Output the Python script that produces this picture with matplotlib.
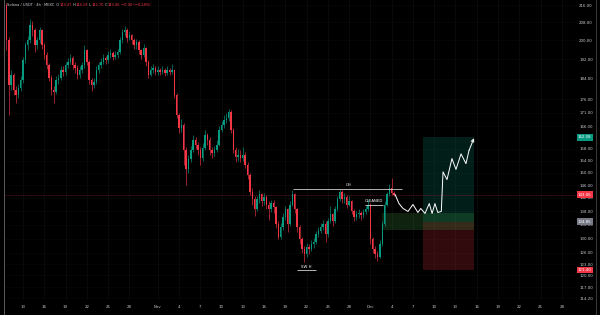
import numpy as np
import matplotlib
matplotlib.use("Agg")
import matplotlib.pyplot as plt
from matplotlib.patches import Rectangle
from matplotlib.lines import Line2D

# ---------------- data ----------------
# time axis: days since Oct 13 (8h candles)
start_day = -7 / 3
candle_step = 1 / 3
first_open = 216.0
closes = [200.2, 181.6, 185.6, 179.6, 177.7, 180.4, 183.6, 191.7, 198.1, 200.2,
          206.8, 204.6, 198.1, 200.2, 204.6, 198.1, 193.8, 189.6, 184.4, 179.6,
          178.8, 183.6, 184.4, 187.6, 186.8, 189.6, 190.9, 192.5, 189.6, 188.4,
          185.6, 187.6, 189.6, 195.9, 190.9, 183.6, 181.6, 182.8, 187.6, 189.6,
          190.9, 192.5, 191.7, 193.8, 194.6, 193.0, 193.8, 195.0, 200.2, 203.7,
          204.6, 201.1, 202.4, 200.2, 198.1, 199.3, 195.9, 193.8, 196.8, 190.9,
          185.6, 187.6, 188.4, 186.8, 187.6, 186.8, 187.6, 186.4, 187.6, 186.8,
          187.6, 177.7, 170.2, 165.4, 166.5, 157.7, 151.1, 154.4, 157.7, 161.2,
          159.5, 157.7, 155.0, 158.4, 162.9, 161.2, 157.7, 156.7, 157.7, 159.5,
          164.7, 166.5, 168.3, 169.0, 171.3, 164.7, 157.7, 155.4, 156.0, 155.0,
          156.0, 152.7, 149.4, 144.0, 141.6, 138.5, 141.6, 143.1, 141.0, 142.2,
          140.0, 138.5, 140.6, 139.1, 134.1, 130.4, 133.3, 136.2, 138.5, 134.1,
          140.0, 143.1, 138.5, 133.3, 129.8, 127.1, 125.7, 127.6, 127.1, 128.4,
          129.0, 131.2, 132.1, 133.3, 134.1, 131.2, 135.0, 137.0, 135.0, 138.5,
          141.6, 144.0, 141.6, 142.2, 140.0, 141.0, 137.9, 136.2, 137.0, 137.3,
          136.7, 137.6, 138.5, 140.0, 129.8, 127.1, 125.7, 124.9, 128.4, 134.1,
          140.0, 143.1, 145.2, 143.47, 143.06]
highs = [217.0, 201.5, 187.5, 186.5, 181.0, 182.0, 185.0, 193.0, 199.5, 202.0,
         209.5, 208.5, 205.5, 201.5, 206.0, 205.0, 199.0, 195.0, 190.5, 185.5,
         181.0, 185.0, 186.0, 189.0, 189.0, 191.0, 192.5, 194.0, 193.5, 191.0,
         189.5, 189.0, 191.0, 198.0, 196.5, 191.5, 184.5, 184.5, 189.0, 191.0,
         192.5, 194.0, 193.5, 195.5, 196.5, 195.5, 195.5, 196.5, 201.5, 205.0,
         206.5, 205.5, 204.0, 203.0, 201.0, 200.5, 200.0, 196.5, 198.5, 197.0,
         191.5, 189.0, 190.0, 189.0, 189.0, 188.5, 189.0, 188.5, 189.0, 188.5,
         190.0, 188.0, 178.5, 171.0, 168.5, 167.0, 158.5, 156.0, 159.0, 163.0,
         162.0, 160.5, 158.5, 160.0, 164.7, 163.5, 162.0, 158.5, 159.0, 161.0,
         166.0, 168.0, 170.0, 171.0, 172.5, 172.0, 165.5, 158.5, 158.0, 157.5,
         158.5, 157.0, 153.5, 150.0, 145.0, 142.5, 142.5, 144.5, 143.5, 143.5,
         142.8, 141.0, 141.5, 141.5, 139.5, 135.0, 134.5, 137.5, 139.5, 139.0,
         141.0, 144.6, 143.5, 139.0, 134.0, 130.5, 128.0, 128.8, 128.5, 129.5,
         130.2, 132.2, 133.2, 134.5, 135.5, 135.0, 136.0, 139.5, 137.5, 139.5,
         142.5, 144.7, 144.5, 143.5, 142.8, 142.5, 141.5, 138.5, 138.0, 138.5,
         138.0, 138.5, 139.5, 141.6, 140.5, 130.5, 128.0, 126.5, 129.5, 135.0,
         141.0, 144.0, 146.5, 148.3, 144.19]
lows = [196.0, 170.0, 179.5, 177.5, 174.5, 176.5, 179.0, 182.5, 190.5, 196.0,
        199.0, 202.0, 195.0, 196.5, 199.0, 196.5, 192.0, 188.0, 183.0, 177.5,
        174.5, 178.0, 182.0, 183.5, 185.0, 185.5, 188.5, 190.0, 188.0, 186.5,
        184.0, 184.5, 186.5, 188.5, 189.5, 182.0, 179.0, 180.5, 182.0, 186.5,
        188.5, 190.0, 190.0, 190.5, 192.5, 191.5, 192.0, 192.5, 194.0, 199.0,
        202.0, 199.5, 200.0, 198.5, 196.5, 196.5, 194.0, 192.0, 193.0, 189.0,
        184.5, 185.0, 186.5, 185.5, 185.5, 185.5, 186.0, 185.0, 185.5, 185.5,
        186.0, 176.5, 169.0, 163.5, 164.0, 152.5, 146.2, 150.0, 153.5, 157.0,
        158.0, 156.0, 152.7, 154.0, 157.5, 159.5, 156.0, 155.0, 155.5, 157.0,
        159.0, 164.0, 165.5, 167.0, 168.0, 163.5, 156.5, 153.5, 154.0, 153.5,
        154.0, 151.5, 148.0, 143.0, 140.0, 136.5, 138.0, 140.5, 139.5, 140.0,
        138.5, 135.5, 137.8, 137.5, 133.0, 129.8, 130.0, 132.5, 135.5, 132.0,
        133.5, 139.5, 137.5, 132.0, 128.5, 126.0, 123.6, 125.0, 125.8, 126.5,
        127.5, 128.5, 130.5, 131.5, 132.5, 129.0, 130.5, 134.5, 133.5, 134.5,
        138.0, 141.0, 140.5, 140.5, 139.0, 139.5, 137.0, 135.0, 135.5, 136.0,
        135.5, 136.0, 137.0, 138.0, 128.5, 126.0, 124.5, 123.8, 124.5, 128.0,
        133.5, 139.5, 142.5, 142.8, 142.70]

# projection path (days, price)
proj_days = [52.47, 53.03, 53.6, 54.3, 55.0, 55.7, 56.1, 56.7, 57.3, 57.7,
             58.1, 58.5, 59.0, 59.24, 59.8, 60.5, 61.07, 61.78, 62.48, 62.9, 63.6]
proj_prices = [143.1, 140.3, 138.8, 137.9, 140.0, 137.6, 138.8, 137.3, 140.3, 137.3,
               140.3, 137.6, 137.9, 150.3, 147.8, 154.7, 151.1, 156.3, 153.0, 157.4, 161.7]

# position tool
pos_start, pos_end = 56.4, 63.6
take_profit, entry, stop_loss = 162.08, 134.85, 121.40
zone_start, zone_low, zone_high = 50.6, 132.5, 137.4
last_price = 143.06

ch_level, ch_from, ch_to = 144.7, 38.1, 53.45
cleaned_level, cleaned_from, cleaned_to = 140.0, 48.24, 50.78
swh_level, swh_from, swh_to = 121.3, 38.65, 41.33

xtick_days = [0, 3, 6, 9, 12, 15, 19, 22, 25, 28, 31, 34, 37, 40, 43, 46, 49, 52,
              55, 58, 61, 64, 67, 70, 73, 76]
xtick_labels = ["13", "16", "19", "22", "25", "28", "Nov", "4", "7", "10", "13", "16",
                "19", "22", "25", "28", "Dec", "4", "7", "10", "13", "16", "19", "22",
                "25", "28"]
ytick_values = [216, 208, 200, 192, 184, 176, 171, 166, 158, 154, 150, 146, 142, 138,
                134, 130, 126, 123, 120, 117, 114.2]

# ---------------- drawing ----------------
UP, DOWN = "#089981", "#f23645"
TXT = "#c9ccd3"

fig = plt.figure(figsize=(6, 3.15), dpi=100)
fig.patch.set_facecolor("black")
ax = fig.add_axes([4 / 600, 15 / 315, 572 / 600, 300 / 315])
ax.set_facecolor("black")
ax.set_yscale("log")
ax.set_xlim((4 - 23) / 7.09, (576 - 23) / 7.09)
ax.set_ylim(113.75, 218.4)

n = len(closes)
t = start_day + candle_step * np.arange(n)
c = np.array(closes)
o = np.array([first_open] + closes[:-1])
h = np.array(highs)
l = np.array(lows)
col = np.where(c >= o, UP, DOWN)

ax.vlines(t, l, h, colors=col, lw=0.45, zorder=3)
ax.bar(t, np.maximum(np.abs(c - o), 0.15), bottom=np.minimum(o, c), width=0.2,
       color=col, linewidth=0, zorder=4)

# faint grid
for xd in xtick_days:
    ax.axvline(xd, color="#0e0e0e", lw=0.5, zorder=0)
for yv in ytick_values:
    ax.axhline(yv, color="#080808", lw=0.5, zorder=0)

# position boxes
ax.add_patch(Rectangle((pos_start, entry), pos_end - pos_start, take_profit - entry,
                       facecolor=UP, alpha=0.2, lw=0, zorder=1))
ax.add_patch(Rectangle((pos_start, stop_loss), pos_end - pos_start, entry - stop_loss,
                       facecolor=DOWN, alpha=0.2, lw=0, zorder=1))
ax.add_patch(Rectangle((zone_start, zone_low), pos_end - zone_start, zone_high - zone_low,
                       facecolor="#4caf50", alpha=0.2, lw=0, zorder=1))

# current price line
ax.axhline(last_price, color="#6a1c28", lw=0.6, ls=(0, (1, 1)), zorder=2)

# annotations
ax.hlines(ch_level, ch_from, ch_to, color="#cfcfcf", lw=0.6, zorder=5)
ax.text((ch_from + ch_to) / 2 + 0.1, ch_level * 1.004, "CH", color="white",
        fontsize=2.8, ha="center", va="bottom", zorder=6)
ax.hlines(cleaned_level, cleaned_from, cleaned_to, color="#cfcfcf", lw=0.6, zorder=5)
ax.text((cleaned_from + cleaned_to) / 2, cleaned_level * 1.003, "CLEANED", color="white",
        fontsize=2.8, ha="center", va="bottom", zorder=6)
ax.hlines(swh_level, swh_from, swh_to, color="#cfcfcf", lw=0.6, zorder=5)
ax.text((swh_from + swh_to) / 2, swh_level * 1.004, "SW H", color="white",
        fontsize=2.8, ha="center", va="bottom", zorder=6)

# projection
ax.plot(proj_days[:-1], proj_prices[:-1], color="white", lw=0.7, zorder=6,
        solid_joinstyle="round")
ax.annotate("", xy=(proj_days[-1], proj_prices[-1]),
            xytext=(proj_days[-2], proj_prices[-2]),
            arrowprops=dict(arrowstyle="->", color="white", lw=0.7, mutation_scale=5,
                            shrinkA=0, shrinkB=0), zorder=6)

# axes styling
for s in ax.spines.values():
    s.set_visible(False)
ax.set_xticks(xtick_days)
ax.set_xticklabels(xtick_labels)
ax.set_yticks(ytick_values)
ax.set_yticklabels([f"{v:.2f}" for v in ytick_values])
ax.minorticks_off()
ax.yaxis.tick_right()
ax.tick_params(axis="both", length=0, labelsize=2.8, colors=TXT)
ax.tick_params(axis="y", pad=2.2)
ax.tick_params(axis="x", pad=3.5)

# price labels on the scale
for val, bg in [(take_profit, UP), (last_price, DOWN), (entry, "#787b86"), (stop_loss, DOWN)]:
    ax.text(1.0035, val, f"{val:.2f}", transform=ax.get_yaxis_transform(), color="white",
            fontsize=2.8, ha="left", va="center", zorder=10, clip_on=False,
            bbox=dict(boxstyle="square,pad=0.35", facecolor=bg, edgecolor="none"))

# border lines
fig.add_artist(Line2D([4 / 600, 4 / 600], [0, 1], transform=fig.transFigure,
                      color="#5a5a5a", lw=0.7))
fig.add_artist(Line2D([596 / 600, 596 / 600], [0, 1], transform=fig.transFigure,
                      color="#3a3a3a", lw=0.7))

# title (legend line)
pieces = [("Solana / USDT · 4h · MEXC", TXT), ("  O", TXT), ("143.47", DOWN), (" H", TXT),
          ("144.19", DOWN), (" L", TXT), ("142.70", DOWN), (" C", TXT), ("143.06", DOWN),
          (" −0.40 (−0.28%)", DOWN)]
prev = fig.text(7 / 600, 1 - 6 / 315, pieces[0][0], color=pieces[0][1], fontsize=2.6,
                ha="left", va="baseline")
for txt, cc in pieces[1:]:
    prev = ax.annotate(txt, xy=(1, 0), xycoords=prev, color=cc, fontsize=2.6,
                       ha="left", va="bottom", annotation_clip=False)

fig.savefig("out.png", dpi=100, facecolor="black")
